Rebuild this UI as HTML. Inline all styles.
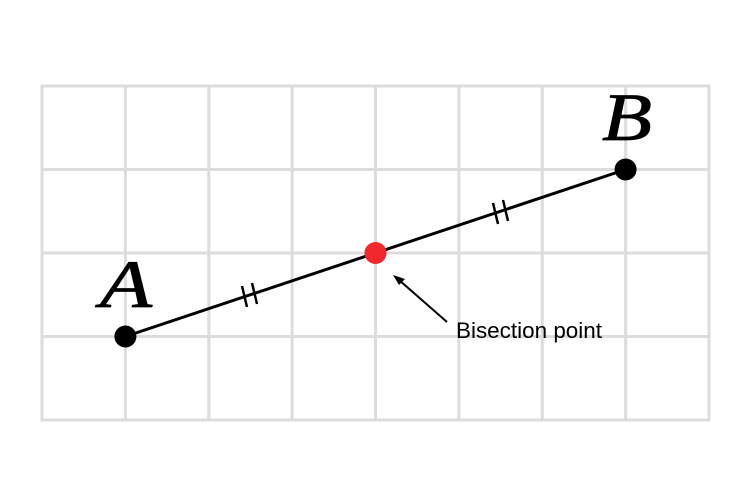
<!DOCTYPE html>
<html><head><style>html,body{margin:0;padding:0;background:#fff;}svg{display:block}</style></head>
<body>
<svg width="750" height="500" viewBox="0 0 750 500" xmlns="http://www.w3.org/2000/svg">
<g stroke="#dcdcdc" stroke-width="3" fill="none">
<rect x="42" y="86" width="667" height="334"/>
<line x1="125.4" y1="86" x2="125.4" y2="420"/>
<line x1="208.8" y1="86" x2="208.8" y2="420"/>
<line x1="292.1" y1="86" x2="292.1" y2="420"/>
<line x1="375.5" y1="86" x2="375.5" y2="420"/>
<line x1="458.9" y1="86" x2="458.9" y2="420"/>
<line x1="542.3" y1="86" x2="542.3" y2="420"/>
<line x1="625.6" y1="86" x2="625.6" y2="420"/>
<line x1="42" y1="169.5" x2="709" y2="169.5"/>
<line x1="42" y1="253" x2="709" y2="253"/>
<line x1="42" y1="336.5" x2="709" y2="336.5"/>
</g>
<line x1="125.4" y1="336.5" x2="625.6" y2="169.5" stroke="#000" stroke-width="3"/>
<g stroke="#000" stroke-width="2.5">
<line x1="242" y1="286" x2="247" y2="307"/>
<line x1="252" y1="283" x2="257" y2="304"/>
<line x1="493" y1="203" x2="498" y2="224"/>
<line x1="503" y1="200" x2="508" y2="221"/>
</g>
<circle cx="125.4" cy="336.5" r="11" fill="#000"/>
<circle cx="625.6" cy="169.5" r="11" fill="#000"/>
<circle cx="375.5" cy="253" r="11" fill="#f2282d"/>
<line x1="447" y1="322" x2="399" y2="280" stroke="#000" stroke-width="2"/>
<polygon points="393,275 405,279 399,285" fill="#000"/>
<text x="100" y="307" font-family="Liberation Serif, serif" font-style="italic" font-size="68" stroke="#000" stroke-width="0.8" textLength="52" lengthAdjust="spacingAndGlyphs">A</text>
<text x="602" y="140" font-family="Liberation Serif, serif" font-style="italic" font-size="68" stroke="#000" stroke-width="0.8" textLength="50" lengthAdjust="spacingAndGlyphs">B</text>
<text x="456" y="338" font-family="Liberation Sans, sans-serif" font-size="22" textLength="146" lengthAdjust="spacingAndGlyphs">Bisection point</text>
</svg>
</body></html>
